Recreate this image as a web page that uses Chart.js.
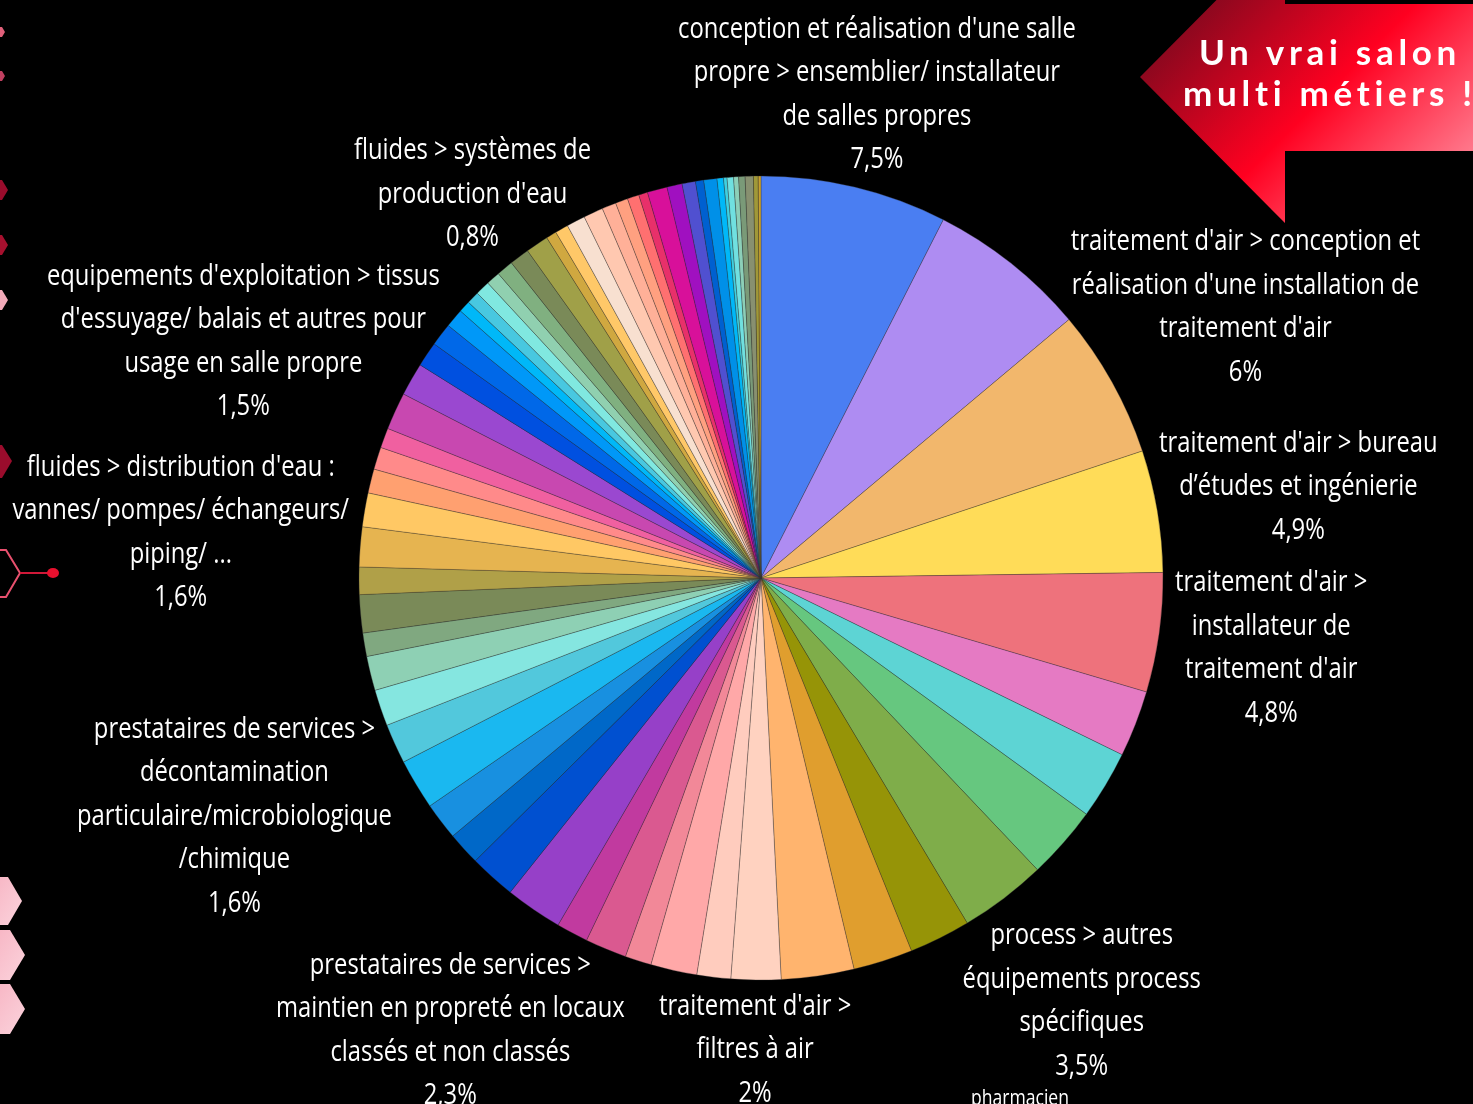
<!DOCTYPE html>
<html lang="fr">
<head>
<meta charset="utf-8">
<script src="https://cdn.jsdelivr.net/npm/chart.js@4/dist/chart.umd.min.js"></script>
<style>
  html, body { margin: 0; padding: 0; background: #000; overflow: hidden; }
  #wrap { position: relative; width: 1473px; height: 1104px; }
  #c { position: absolute; left: 0; top: 0; }
  #deco { position: absolute; left: 0; top: 0; pointer-events: none; }
</style>
</head>
<body>
<div id="wrap">
  <canvas id="c" width="1473" height="1104"></canvas>
  <svg id="deco" width="1473" height="1104" viewBox="0 0 1473 1104">
    <defs>
      <linearGradient id="arrowGrad" gradientUnits="userSpaceOnUse" x1="1180" y1="-20" x2="1440" y2="240">
        <stop offset="0" stop-color="#6e0a1e"/>
        <stop offset="0.5" stop-color="#ff0020"/>
        <stop offset="1" stop-color="#ff9aaa"/>
      </linearGradient>
      <linearGradient id="hexGrad" x1="0" y1="0" x2="1" y2="1">
        <stop offset="0" stop-color="#f7b3c2"/>
        <stop offset="1" stop-color="#fbd3dc"/>
      </linearGradient>
    </defs>
    <polygon points="1140,77 1285,-69 1285,4 1473,4 1473,151 1285,151 1285,223" fill="url(#arrowGrad)"/>
    <text x="1330" y="65" text-anchor="middle" fill="#fff" font-family="Lato" font-weight="700" font-size="35" letter-spacing="4.7">Un vrai salon</text>
    <text x="1330" y="106" text-anchor="middle" fill="#fff" font-family="Lato" font-weight="700" font-size="35" letter-spacing="4.7">multi métiers !</text>
    <!-- left edge decorations -->
    <polygon points="-10,27 2,27 5,32 2,37 -10,37" fill="#e0607a"/>
    <polygon points="-10,71 2,71 5,76 2,81 -10,81" fill="#c04060"/>
    <polygon points="-10,180 2,180 8,190 2,200 -10,200" fill="#9a0c2c"/>
    <polygon points="-10,235 2,235 8,245 2,255 -10,255" fill="#a5102e"/>
    <polygon points="-10,290 2,290 8,300 2,310 -10,310" fill="#f2a9b8"/>
    <polygon points="-10,445 2,445 12,461 2,478 -10,478" fill="#9a0c2c"/>
    <polygon points="-10,550 6,550 20,573 6,597 -10,597" fill="none" stroke="#e8506e" stroke-width="2"/>
    <line x1="20" y1="573" x2="49" y2="573" stroke="#d01838" stroke-width="2"/>
    <ellipse cx="53" cy="573" rx="6" ry="5" fill="#e8102e"/>
    <polygon points="-10,877 8,877 22,901 8,925 -10,925" fill="url(#hexGrad)"/>
    <polygon points="-10,930 10,930 25,955 10,980 -10,980" fill="url(#hexGrad)"/>
    <polygon points="-10,984 10,984 25,1009 10,1034 -10,1034" fill="url(#hexGrad)"/>
  </svg>
</div>
<script>
// ---- DATA ----
const categories = [
  "conception et réalisation d'une salle propre > ensemblier/ installateur de salles propres",
  "catégorie 2",
  "traitement d'air > conception et réalisation d'une installation de traitement d'air",
  "traitement d'air > bureau d’études et ingénierie",
  "traitement d'air > installateur de traitement d'air",
  "catégorie 6", "catégorie 7", "catégorie 8",
  "process > autres équipements process spécifiques",
  "pharmacien",
  "catégorie 11", "catégorie 12",
  "traitement d'air > filtres à air",
  "catégorie 14", "catégorie 15", "catégorie 16", "catégorie 17", "catégorie 18",
  "prestataires de services > maintien en propreté en locaux classés et non classés",
  "catégorie 20", "catégorie 21", "catégorie 22", "catégorie 23",
  "prestataires de services > décontamination particulaire/microbiologique /chimique",
  "catégorie 25", "catégorie 26", "catégorie 27", "catégorie 28", "catégorie 29",
  "fluides > distribution d'eau : vannes/ pompes/ échangeurs/ piping/ ...",
  "catégorie 31", "catégorie 32", "catégorie 33", "catégorie 34",
  "equipements d'exploitation > tissus d'essuyage/ balais et autres pour usage en salle propre",
  "catégorie 36", "catégorie 37", "catégorie 38", "catégorie 39", "catégorie 40",
  "catégorie 41", "catégorie 42", "catégorie 43", "catégorie 44",
  "fluides > systèmes de production d'eau",
  "catégorie 46", "catégorie 47", "catégorie 48", "catégorie 49", "catégorie 50",
  "catégorie 51", "catégorie 52", "catégorie 53", "catégorie 54", "catégorie 55",
  "catégorie 56", "catégorie 57", "catégorie 58", "catégorie 59", "catégorie 60",
  "catégorie 61", "catégorie 62", "catégorie 63", "catégorie 64", "catégorie 65",
  "catégorie 66", "catégorie 67"
];

const values = [
  7.5, 6.4, 6.0, 4.9, 4.8,
  2.67, 2.75, 2.94, 3.5, 2.47, 2.39, 2.92,
  2.0, 1.36, 1.86, 1.06, 1.67, 1.28, 2.3,
  1.86, 1.33, 1.5, 2.03, 1.6, 1.46, 1.38, 0.94, 1.53, 1.1,
  1.6, 1.36, 0.97, 0.9, 0.8, 1.5, 1.33, 1.0, 0.92, 0.75,
  0.47, 0.5, 0.58, 0.56, 0.67, 0.8, 0.92, 0.42, 0.53, 0.75,
  0.79, 0.57, 0.5, 0.47, 0.36, 0.8, 0.61, 0.54, 0.33, 0.53,
  0.26, 0.14, 0.26, 0.2, 0.26, 0.33, 0.19, 0.11
];

const colors = [
  "#4a7ef2", "#ae8cf2", "#f2b76c", "#ffdc58", "#ee727c",
  "#e57ac3", "#5dd4d4", "#66c77f", "#7fad4a", "#969407", "#e09e2e", "#ffb46e",
  "#ffd2c0", "#ffccbe", "#ffa8a8", "#f28898", "#da5990", "#c13a9f", "#9640c8",
  "#0050d0", "#0068c8", "#1890e0", "#1ab8f0", "#52c8dc", "#85e6e0", "#8ed0b4", "#80a880", "#7a8a58", "#b0a048",
  "#e6b450", "#ffc864", "#ffa070", "#ff8a8a", "#f060a0", "#c848b0", "#9a48d0", "#0050e0", "#0068e8", "#0098f8",
  "#00b8f8", "#48c8e0", "#80e8e0", "#90d0b0", "#80b080", "#7a8a58", "#a0a048", "#d0a840", "#ffc868", "#f8e0d0",
  "#ffc8b0", "#ffb098", "#ffa080", "#ff7070", "#e8306a", "#d8109a", "#a010c0", "#5050d0", "#0060d0", "#0090e8",
  "#00b8f8", "#40d0e0", "#70e0e0", "#8ccfb8", "#7a9a78", "#889070", "#a09838", "#c8a030"
];

// label text for the slices that carry a visible label (index into categories)
const labelIndex = [0, 2, 3, 4, 8, 9, 12, 18, 23, 29, 34, 44];
const labelLines = [
  ["conception et réalisation d'une salle", "propre > ensemblier/ installateur", "de salles propres", "7,5%"],
  ["traitement d'air > conception et", "réalisation d'une installation de", "traitement d'air", "6%"],
  ["traitement d'air > bureau", "d’études et ingénierie", "4,9%"],
  ["traitement d'air >", "installateur de", "traitement d'air", "4,8%"],
  ["process > autres", "équipements process", "spécifiques", "3,5%"],
  ["pharmacien"],
  ["traitement d'air >", "filtres à air", "2%"],
  ["prestataires de services >", "maintien en propreté en locaux", "classés et non classés", "2,3%"],
  ["prestataires de services >", "décontamination", "particulaire/microbiologique", "/chimique", "1,6%"],
  ["fluides > distribution d'eau :", "vannes/ pompes/ échangeurs/", "piping/ ...", "1,6%"],
  ["equipements d'exploitation > tissus", "d'essuyage/ balais et autres pour", "usage en salle propre", "1,5%"],
  ["fluides > systèmes de", "production d'eau", "0,8%"]
];

// ---- LAYOUT (label placement outside the pie) ----
const labelGap = [95, 153, 143, 113, 129, 180, 70, 147, 176, 180, 167, 78];
const labelScale = [1, 1, 1, 1, 1, 0.74, 1, 1, 1, 1, 1, 1];
const FONT_SIZE = 29;
const LINE_H = 43.5;
const X_SCALE = 0.82;

const outsideLabels = {
  id: 'outsideLabels',
  afterDatasetsDraw(chart) {
    const ctx = chart.ctx;
    const meta = chart.getDatasetMeta(0);
    ctx.save();
    ctx.fillStyle = '#ffffff';
    ctx.textAlign = 'center';
    ctx.textBaseline = 'middle';
    labelIndex.forEach((idx, k) => {
      const arc = meta.data[idx];
      const p = arc.getProps(['x', 'y', 'startAngle', 'endAngle', 'outerRadius'], true);
      const mid = (p.startAngle + p.endAngle) / 2;
      const d = p.outerRadius + labelGap[k];
      const ax = p.x + Math.cos(mid) * d;
      const ay = p.y + Math.sin(mid) * d;
      const lines = labelLines[k];
      const fs = FONT_SIZE * labelScale[k];
      const lh = LINE_H * labelScale[k];
      ctx.font = '400 ' + fs + 'px "Open Sans"';
      const y0 = ay - (lines.length - 1) * lh / 2;
      lines.forEach((t, j) => {
        ctx.save();
        ctx.translate(ax, y0 + j * lh);
        ctx.scale(X_SCALE, 1);
        ctx.fillText(t, 0, 0);
        ctx.restore();
      });
    });
    ctx.restore();
  }
};

new Chart(document.getElementById('c'), {
  type: 'pie',
  data: {
    labels: categories,
    datasets: [{
      data: values,
      backgroundColor: colors,
      borderColor: 'rgba(50,50,50,0.55)',
      borderWidth: 0.6,
      hoverOffset: 0,
      radius: 402
    }]
  },
  options: {
    responsive: false,
    animation: false,
    events: [],
    layout: { padding: { left: 359, right: 310, top: 176, bottom: 124 } },
    plugins: {
      legend: { display: false },
      tooltip: { enabled: false }
    }
  },
  plugins: [outsideLabels]
});
</script>
</body>
</html>
